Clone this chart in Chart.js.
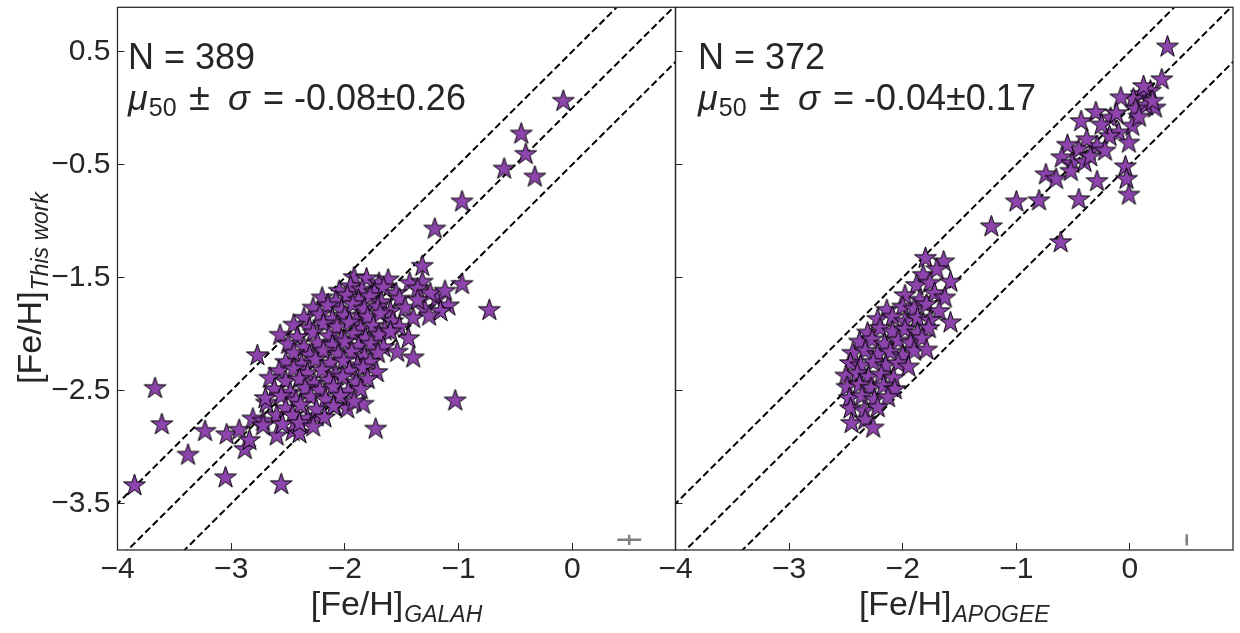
<!DOCTYPE html>
<html>
<head>
<meta charset="utf-8">
<script src="https://cdn.jsdelivr.net/npm/chart.js@4.4.1/dist/chart.umd.min.js"></script>
<style>
  html, body { margin: 0; padding: 0; background: #fff; }
  #wrap { position: relative; width: 1240px; height: 633px; }
  canvas { position: absolute; left: 0; top: 0; }
</style>
</head>
<body>
<div id="wrap">
  <canvas id="galah" width="1240" height="633" style="width:1240px;height:633px"></canvas>
  <canvas id="apogee" width="1240" height="633" style="width:1240px;height:633px"></canvas>
</div>
<script>
// [Fe/H] GALAH vs this work
const galahPoints = [
  [-3.85, -3.34], [-3.67, -2.48], [-3.61, -2.80], [-3.38, -3.07], [-3.23, -2.86],
  [-3.05, -3.27], [-3.04, -2.89], [-2.93, -2.85], [-2.88, -3.02], [-2.84, -2.94],
  [-2.56, -3.33], [-2.77, -2.19], [-1.73, -2.84], [-1.03, -2.59], [-0.73, -1.79],
  [-0.97, -1.56], [-1.21, -1.07], [-0.97, -0.83], [-0.60, -0.54], [-0.33, -0.61],
  [-0.45, -0.23], [-0.41, -0.41], [-0.08, 0.06], [-1.32, -1.40], [-1.43, -1.55],
  [-1.32, -1.54],
  [-2.81, -2.75], [-2.72, -2.77], [-2.69, -2.61], [-2.60, -2.90], [-2.46, -2.86],
  [-2.40, -2.88], [-2.25, -2.73], [-2.09, -2.64], [-1.98, -2.66], [-1.84, -2.62],
  [-2.33, -2.75], [-2.60, -2.72], [-2.72, -2.81],
  [-1.92, -1.50], [-1.81, -1.51], [-1.70, -1.55], [-1.62, -1.52],
  [-2.05, -1.62], [-1.95, -1.58], [-1.85, -1.61], [-1.74, -1.63], [-1.66, -1.59], [-1.55, -1.64], [-1.36, -1.60],
  [-2.20, -1.68], [-2.08, -1.71], [-1.98, -1.66], [-1.88, -1.70], [-1.78, -1.67], [-1.68, -1.72], [-1.52, -1.69], [-1.19, -1.69], [-1.09, -1.75],
  [-2.28, -1.77], [-2.15, -1.75], [-2.03, -1.79], [-1.93, -1.74], [-1.83, -1.78], [-1.71, -1.76], [-1.60, -1.80], [-1.47, -1.77], [-1.30, -1.78], [-1.16, -1.80],
  [-2.36, -1.86], [-2.22, -1.83], [-2.11, -1.87], [-2.00, -1.84], [-1.90, -1.88], [-1.80, -1.85], [-1.69, -1.82], [-1.58, -1.89], [-1.40, -1.86], [-1.26, -1.84],
  [-2.45, -1.92], [-2.31, -1.95], [-2.19, -1.91], [-2.07, -1.94], [-1.96, -1.90], [-1.86, -1.96], [-1.75, -1.93], [-1.65, -1.97], [-1.52, -1.94],
  [-2.57, -2.01], [-2.42, -2.03], [-2.28, -1.99], [-2.14, -2.02], [-2.03, -2.05], [-1.92, -2.00], [-1.82, -2.04], [-1.70, -2.01], [-1.60, -1.98], [-1.44, -2.04],
  [-2.50, -2.09], [-2.36, -2.12], [-2.24, -2.08], [-2.11, -2.10], [-2.00, -2.07], [-1.88, -2.11], [-1.77, -2.09], [-1.66, -2.12],
  [-2.45, -2.17], [-2.31, -2.19], [-2.19, -2.15], [-2.06, -2.18], [-1.94, -2.16], [-1.83, -2.20], [-1.71, -2.17], [-1.54, -2.16], [-1.40, -2.21],
  [-2.52, -2.25], [-2.38, -2.27], [-2.26, -2.23], [-2.13, -2.26], [-2.01, -2.24], [-1.89, -2.28], [-1.78, -2.25],
  [-2.58, -2.33], [-2.45, -2.31], [-2.33, -2.35], [-2.20, -2.32], [-2.08, -2.36], [-1.96, -2.33], [-1.84, -2.30], [-1.72, -2.34],
  [-2.66, -2.39], [-2.52, -2.42], [-2.40, -2.40], [-2.27, -2.44], [-2.14, -2.41], [-2.02, -2.38], [-1.90, -2.43], [-1.80, -2.40],
  [-2.62, -2.49], [-2.48, -2.52], [-2.35, -2.48], [-2.22, -2.50], [-2.10, -2.47], [-1.97, -2.51], [-1.86, -2.49],
  [-2.70, -2.57], [-2.56, -2.55], [-2.43, -2.59], [-2.30, -2.56], [-2.17, -2.58], [-2.04, -2.55], [-1.92, -2.60],
  [-2.52, -2.66], [-2.39, -2.63], [-2.25, -2.67], [-2.10, -2.64],
  [-2.46, -2.72], [-2.18, -2.74], [-2.55, -2.80], [-2.40, -2.79], [-2.28, -2.82],
  [-1.25, -1.64], [-1.12, -1.62], [-1.36, -1.70],
];

// [Fe/H] APOGEE vs this work
const apogeePoints = [
  [0.33, 0.54], [0.28, 0.25], [0.18, 0.15], [0.10, 0.12], [0.22, 0.00], [0.14, 0.02],
  [0.03, 0.08], [-0.08, 0.09], [0.05, -0.01], [0.20, 0.06], [-0.30, -0.04], [-0.43, -0.12],
  [-0.17, -0.09], [0.02, -0.16], [-0.10, -0.22], [-0.01, -0.31], [-0.18, -0.25], [-0.25, -0.15],
  [-0.29, -0.34], [-0.38, -0.28], [-0.45, -0.37], [-0.55, -0.33], [-0.60, -0.44], [-0.51, -0.49],
  [-0.74, -0.59], [-0.65, -0.63], [-0.52, -0.56], [-0.40, -0.48], [-0.29, -0.65], [-0.04, -0.52],
  [-0.03, -0.63], [-0.01, -0.77], [-0.45, -0.81], [-0.80, -0.82], [-1.00, -0.83], [-1.22, -1.05],
  [-0.61, -1.19], [-0.35, -0.43], [-0.22, -0.38], [-0.12, -0.05], [0.08, -0.08], [0.12, 0.19],
  [-1.80, -1.33], [-1.64, -1.36],
  [-1.82, -1.48], [-1.70, -1.43],
  [-1.88, -1.57], [-1.76, -1.55], [-1.58, -1.54],
  [-1.98, -1.66], [-1.85, -1.70], [-1.72, -1.64], [-1.63, -1.68],
  [-2.14, -1.79], [-2.00, -1.76], [-1.90, -1.78], [-1.79, -1.74], [-1.68, -1.80],
  [-2.22, -1.87], [-2.09, -1.85], [-1.98, -1.89], [-1.87, -1.86], [-1.76, -1.88], [-1.58, -1.90],
  [-2.31, -1.99], [-2.20, -1.95], [-2.09, -1.98], [-1.98, -1.96], [-1.87, -1.99], [-1.77, -1.95],
  [-2.38, -2.07], [-2.27, -2.05], [-2.16, -2.09], [-2.04, -2.06], [-1.93, -2.08], [-1.83, -2.04],
  [-2.44, -2.17], [-2.33, -2.15], [-2.22, -2.18], [-2.11, -2.16], [-2.00, -2.19], [-1.90, -2.15], [-1.79, -2.14],
  [-2.46, -2.26], [-2.37, -2.28], [-2.26, -2.25], [-2.15, -2.28], [-2.04, -2.26], [-1.95, -2.29],
  [-2.50, -2.37], [-2.40, -2.35], [-2.30, -2.38], [-2.19, -2.36], [-2.08, -2.39],
  [-2.49, -2.47], [-2.38, -2.45], [-2.28, -2.48], [-2.17, -2.46], [-2.07, -2.49],
  [-2.47, -2.57], [-2.36, -2.55], [-2.25, -2.58], [-2.13, -2.56],
  [-2.46, -2.66], [-2.34, -2.68], [-2.22, -2.65],
  [-2.45, -2.79], [-2.33, -2.76], [-2.26, -2.83],
];

// typical error bar: x, y, half-width in x, half-height in y
const galahErrBar = [0.5, -3.82, 0.105, 0.045];
const apogeeErrBar = [0.5, -3.82, 0.012, 0.05];

const xTicks = [-4, -3, -2, -1, 0];
const yTicks = [0.5, -0.5, -1.5, -2.5, -3.5];
const xRange = [-4, 0.907];
const yRange = [-3.91, 0.89];
const bandOffsets = [0.5, 0, -0.5];
const lineSpan = [-5, 2];

const panelN = [389, 372];
const panelMedian = ["-0.08", "-0.04"];
const panelSigma = ["0.26", "0.17"];

const ink = "#262626";
const family = "'Liberation Sans', Arial, sans-serif";
const starFill = "#8e44ad";

function makeStar(outer) {
  const inner = outer * 0.382;
  const size = Math.ceil(outer * 2 + 4);
  const c = document.createElement("canvas");
  c.width = size;
  c.height = size;
  const g = c.getContext("2d");
  const cx = size / 2, cy = size / 2;
  g.beginPath();
  for (let i = 0; i < 10; i++) {
    const r = i % 2 === 0 ? outer : inner;
    const a = -Math.PI / 2 + (i * Math.PI) / 5;
    const px = cx + r * Math.cos(a);
    const py = cy + r * Math.sin(a);
    if (i === 0) g.moveTo(px, py);
    else g.lineTo(px, py);
  }
  g.closePath();
  g.fillStyle = starFill;
  g.fill();
  g.lineWidth = 1.0;
  g.strokeStyle = "#000";
  g.stroke();
  return c;
}

const star = makeStar(11.5);

function fmtTick(v) {
  return v < 0 ? "\u2212" + Math.abs(v) : String(v);
}

// main text followed by an italic subscript
function withSub(ctx, main, sub, mainSize, subSize) {
  ctx.font = mainSize + "px " + family;
  const w1 = ctx.measureText(main).width;
  ctx.font = "italic " + subSize + "px " + family;
  const w2 = ctx.measureText(sub).width;
  return { w1: w1, w2: w2, total: w1 + 1 + w2 };
}

function drawWithSub(ctx, x, y, main, sub, mainSize, subSize, drop) {
  const m = withSub(ctx, main, sub, mainSize, subSize);
  const x0 = x - m.total / 2;
  ctx.font = mainSize + "px " + family;
  ctx.fillText(main, x0, y);
  ctx.font = "italic " + subSize + "px " + family;
  ctx.fillText(sub, x0 + m.w1 + 1, y + drop);
}

const decorations = {
  id: "decorations",
  afterDraw(chart, args, o) {
    const { ctx, chartArea: a } = chart;
    ctx.save();
    ctx.strokeStyle = ink;
    ctx.lineWidth = 1.25;
    ctx.strokeRect(a.left, a.top, a.right - a.left, a.bottom - a.top);

    ctx.fillStyle = ink;
    ctx.textBaseline = "alphabetic";
    ctx.textAlign = "left";

    // N and median +- sigma
    const x0 = a.left + o.textInset;
    ctx.font = "36px " + family;
    ctx.fillText("N = " + panelN[o.idx], x0, 69);
    ctx.font = "italic 36px " + family;
    ctx.fillText("\u03bc", x0, 110);
    const wm = ctx.measureText("\u03bc").width;
    ctx.font = "25px " + family;
    ctx.fillText("50", x0 + wm + 1, 116);
    ctx.font = "38px " + family;
    ctx.fillText("\u00b1", x0 + 61, 110);
    ctx.font = "italic 36px " + family;
    ctx.fillText("\u03c3", x0 + 100, 110);
    ctx.font = "36px " + family;
    ctx.fillText("= " + panelMedian[o.idx] + "\u00b1" + panelSigma[o.idx], x0 + 135, 110);

    // x axis title
    drawWithSub(ctx, (a.left + a.right) / 2, 615, "[Fe/H]", o.xSub, 34, 23, 7);

    // y axis title, left panel only
    if (o.yTitle) {
      ctx.translate(41, 288);
      ctx.rotate(-Math.PI / 2);
      drawWithSub(ctx, 0, 0, "[Fe/H]", o.yTitle, 34, 23, 7);
    }
    ctx.restore();
  },
};

function panelChart(id, points, err, cfg) {
  const stars = {
    type: "scatter",
    data: points.map((p) => ({ x: p[0], y: p[1] })),
    pointStyle: star,
    pointRadius: 11,
    order: 0,
  };
  const bands = bandOffsets.map((off) => ({
    type: "line",
    data: lineSpan.map((v) => ({ x: v, y: v + off })),
    borderColor: "#000",
    borderWidth: 2,
    borderDash: [7, 3.5],
    pointRadius: 0,
    showLine: true,
    order: 1,
  }));
  const errH = {
    type: "line",
    data: [{ x: err[0] - err[2], y: err[1] }, { x: err[0] + err[2], y: err[1] }],
    borderColor: "#808080",
    borderWidth: 2.5,
    pointRadius: 0,
    showLine: true,
    order: 2,
  };
  const errV = {
    type: "line",
    data: [{ x: err[0], y: err[1] - err[3] }, { x: err[0], y: err[1] + err[3] }],
    borderColor: "#808080",
    borderWidth: 2.5,
    pointRadius: 0,
    showLine: true,
    order: 2,
  };

  return new Chart(document.getElementById(id), {
    type: "scatter",
    data: { datasets: [errH, errV, ...bands, stars] },
    options: {
      responsive: false,
      animation: false,
      events: [],
      layout: { autoPadding: false, padding: cfg.padding },
      plugins: {
        legend: { display: false },
        tooltip: { enabled: false },
        decorations: cfg.deco,
      },
      scales: {
        x: {
          type: "linear",
          min: xRange[0],
          max: xRange[1],
          afterBuildTicks: (s) => {
            s.ticks = xTicks.map((v) => ({ value: v }));
          },
          afterFit: (s) => {
            s.height = 83;
            s.paddingLeft = 0;
            s.paddingRight = 0;
          },
          grid: { drawOnChartArea: false, drawTicks: true, tickLength: -7, tickColor: ink, tickWidth: 1 },
          border: { display: false },
          ticks: {
            color: ink,
            font: { family: family, size: 30 },
            padding: 9,
            maxRotation: 0,
            autoSkip: false,
            callback: fmtTick,
          },
        },
        y: {
          type: "linear",
          min: yRange[0],
          max: yRange[1],
          afterBuildTicks: (s) => {
            s.ticks = yTicks.map((v) => ({ value: v }));
          },
          afterFit: (s) => {
            s.width = cfg.yWidth;
            s.paddingTop = 0;
            s.paddingBottom = 0;
          },
          grid: { drawOnChartArea: false, drawTicks: true, tickLength: -7, tickColor: ink, tickWidth: 1 },
          border: { display: false },
          ticks: {
            display: cfg.yLabels,
            color: ink,
            font: { family: family, size: 30 },
            padding: 14,
            autoSkip: false,
            callback: fmtTick,
          },
        },
      },
    },
    plugins: [decorations],
  });
}

panelChart("galah", galahPoints, galahErrBar, {
  padding: { left: 0, top: 7.3, right: 564.5, bottom: 0 },
  yWidth: 117.5,
  yLabels: true,
  deco: { idx: 0, textInset: 10.5, xSub: "GALAH", yTitle: "This work" },
});

panelChart("apogee", apogeePoints, apogeeErrBar, {
  padding: { left: 600, top: 7.3, right: 7, bottom: 0 },
  yWidth: 75.5,
  yLabels: false,
  deco: { idx: 1, textInset: 22.5, xSub: "APOGEE", yTitle: null },
});
</script>
</body>
</html>
